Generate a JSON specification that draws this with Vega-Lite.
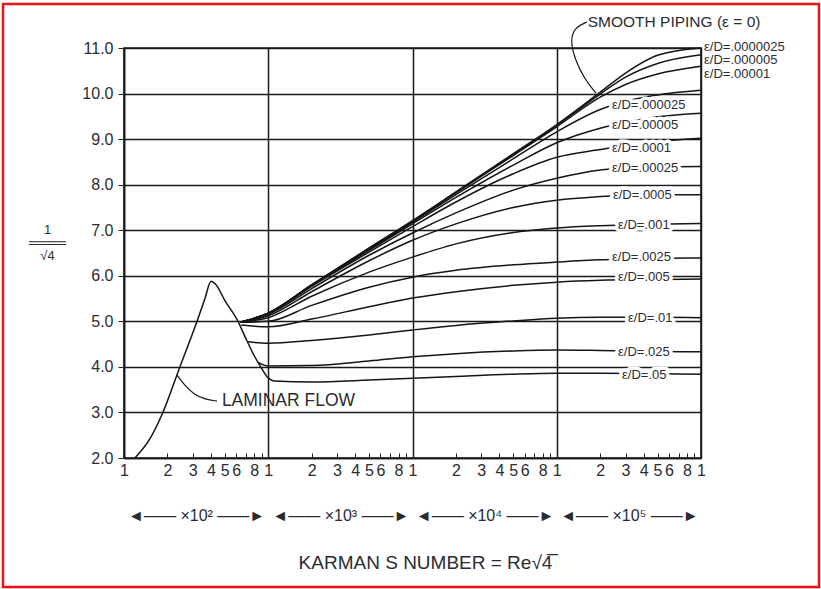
{
  "$schema": "https://vega.github.io/schema/vega-lite/v6.json",
  "width": 577,
  "height": 410,
  "autosize": {"type": "none"},
  "padding": {"left": 124, "top": 48, "right": 120, "bottom": 131},
  "background": "white",
  "config": {
    "font": "Liberation Sans",
    "view": {"stroke": "#1a1a1a", "strokeWidth": 1.6},
    "text": {"font": "Liberation Sans", "color": "#2b2b33"}
  },
  "datasets": {
    "curves": [
      {"s": ".0000025", "K": 640, "v": 4.98}, {"s": ".0000025", "K": 1000, "v": 5.18}, {"s": ".0000025", "K": 2000, "v": 5.80}, {"s": ".0000025", "K": 5000, "v": 6.61}, {"s": ".0000025", "K": 10000, "v": 7.21}, {"s": ".0000025", "K": 20000, "v": 7.84}, {"s": ".0000025", "K": 50000, "v": 8.68}, {"s": ".0000025", "K": 100000, "v": 9.32}, {"s": ".0000025", "K": 200000, "v": 10.03}, {"s": ".0000025", "K": 300000, "v": 10.45}, {"s": ".0000025", "K": 500000, "v": 10.84}, {"s": ".0000025", "K": 1000000, "v": 11.0},
      {"s": ".000005", "K": 640, "v": 4.98}, {"s": ".000005", "K": 1000, "v": 5.18}, {"s": ".000005", "K": 2000, "v": 5.80}, {"s": ".000005", "K": 5000, "v": 6.60}, {"s": ".000005", "K": 10000, "v": 7.20}, {"s": ".000005", "K": 20000, "v": 7.83}, {"s": ".000005", "K": 50000, "v": 8.66}, {"s": ".000005", "K": 100000, "v": 9.30}, {"s": ".000005", "K": 200000, "v": 9.99}, {"s": ".000005", "K": 300000, "v": 10.36}, {"s": ".000005", "K": 500000, "v": 10.66}, {"s": ".000005", "K": 1000000, "v": 10.85},
      {"s": ".00001", "K": 640, "v": 4.98}, {"s": ".00001", "K": 1000, "v": 5.18}, {"s": ".00001", "K": 2000, "v": 5.80}, {"s": ".00001", "K": 5000, "v": 6.59}, {"s": ".00001", "K": 10000, "v": 7.19}, {"s": ".00001", "K": 20000, "v": 7.82}, {"s": ".00001", "K": 50000, "v": 8.64}, {"s": ".00001", "K": 100000, "v": 9.27}, {"s": ".00001", "K": 200000, "v": 9.92}, {"s": ".00001", "K": 300000, "v": 10.20}, {"s": ".00001", "K": 500000, "v": 10.43}, {"s": ".00001", "K": 1000000, "v": 10.60},
      {"s": ".000025", "K": 640, "v": 4.98}, {"s": ".000025", "K": 1000, "v": 5.18}, {"s": ".000025", "K": 2000, "v": 5.79}, {"s": ".000025", "K": 5000, "v": 6.58}, {"s": ".000025", "K": 10000, "v": 7.17}, {"s": ".000025", "K": 20000, "v": 7.78}, {"s": ".000025", "K": 50000, "v": 8.57}, {"s": ".000025", "K": 100000, "v": 9.16}, {"s": ".000025", "K": 200000, "v": 9.65}, {"s": ".000025", "K": 300000, "v": 9.83}, {"s": ".000025", "K": 500000, "v": 9.97}, {"s": ".000025", "K": 1000000, "v": 10.07},
      {"s": ".00005", "K": 640, "v": 4.98}, {"s": ".00005", "K": 1000, "v": 5.18}, {"s": ".00005", "K": 2000, "v": 5.78}, {"s": ".00005", "K": 5000, "v": 6.56}, {"s": ".00005", "K": 10000, "v": 7.14}, {"s": ".00005", "K": 20000, "v": 7.72}, {"s": ".00005", "K": 50000, "v": 8.43}, {"s": ".00005", "K": 100000, "v": 8.92}, {"s": ".00005", "K": 200000, "v": 9.24}, {"s": ".00005", "K": 300000, "v": 9.37}, {"s": ".00005", "K": 500000, "v": 9.49}, {"s": ".00005", "K": 1000000, "v": 9.57},
      {"s": ".0001", "K": 640, "v": 4.98}, {"s": ".0001", "K": 1000, "v": 5.17}, {"s": ".0001", "K": 2000, "v": 5.77}, {"s": ".0001", "K": 5000, "v": 6.52}, {"s": ".0001", "K": 10000, "v": 7.08}, {"s": ".0001", "K": 20000, "v": 7.62}, {"s": ".0001", "K": 50000, "v": 8.24}, {"s": ".0001", "K": 100000, "v": 8.60}, {"s": ".0001", "K": 200000, "v": 8.77}, {"s": ".0001", "K": 300000, "v": 8.86}, {"s": ".0001", "K": 500000, "v": 8.95}, {"s": ".0001", "K": 1000000, "v": 9.02},
      {"s": ".00025", "K": 640, "v": 4.98}, {"s": ".00025", "K": 1000, "v": 5.15}, {"s": ".00025", "K": 2000, "v": 5.72}, {"s": ".00025", "K": 5000, "v": 6.45}, {"s": ".00025", "K": 10000, "v": 6.94}, {"s": ".00025", "K": 20000, "v": 7.38}, {"s": ".00025", "K": 50000, "v": 7.88}, {"s": ".00025", "K": 100000, "v": 8.14}, {"s": ".00025", "K": 200000, "v": 8.32}, {"s": ".00025", "K": 300000, "v": 8.37}, {"s": ".00025", "K": 500000, "v": 8.39}, {"s": ".00025", "K": 1000000, "v": 8.40},
      {"s": ".0005", "K": 640, "v": 4.98}, {"s": ".0005", "K": 1000, "v": 5.12}, {"s": ".0005", "K": 2000, "v": 5.65}, {"s": ".0005", "K": 5000, "v": 6.33}, {"s": ".0005", "K": 10000, "v": 6.78}, {"s": ".0005", "K": 20000, "v": 7.14}, {"s": ".0005", "K": 50000, "v": 7.50}, {"s": ".0005", "K": 100000, "v": 7.66}, {"s": ".0005", "K": 200000, "v": 7.74}, {"s": ".0005", "K": 300000, "v": 7.77}, {"s": ".0005", "K": 500000, "v": 7.78}, {"s": ".0005", "K": 1000000, "v": 7.78},
      {"s": ".001", "K": 640, "v": 4.98}, {"s": ".001", "K": 1000, "v": 5.08}, {"s": ".001", "K": 2000, "v": 5.55}, {"s": ".001", "K": 5000, "v": 6.08}, {"s": ".001", "K": 10000, "v": 6.41}, {"s": ".001", "K": 20000, "v": 6.70}, {"s": ".001", "K": 50000, "v": 6.95}, {"s": ".001", "K": 100000, "v": 7.05}, {"s": ".001", "K": 200000, "v": 7.10}, {"s": ".001", "K": 500000, "v": 7.13}, {"s": ".001", "K": 1000000, "v": 7.15},
      {"s": ".0025", "K": 640, "v": 4.98}, {"s": ".0025", "K": 1000, "v": 5.00}, {"s": ".0025", "K": 2000, "v": 5.35}, {"s": ".0025", "K": 5000, "v": 5.75}, {"s": ".0025", "K": 10000, "v": 5.97}, {"s": ".0025", "K": 20000, "v": 6.12}, {"s": ".0025", "K": 50000, "v": 6.24}, {"s": ".0025", "K": 100000, "v": 6.30}, {"s": ".0025", "K": 200000, "v": 6.35}, {"s": ".0025", "K": 500000, "v": 6.38}, {"s": ".0025", "K": 1000000, "v": 6.39},
      {"s": ".005", "K": 650, "v": 4.92}, {"s": ".005", "K": 1000, "v": 4.88}, {"s": ".005", "K": 2000, "v": 5.05}, {"s": ".005", "K": 5000, "v": 5.32}, {"s": ".005", "K": 10000, "v": 5.51}, {"s": ".005", "K": 20000, "v": 5.65}, {"s": ".005", "K": 50000, "v": 5.79}, {"s": ".005", "K": 100000, "v": 5.86}, {"s": ".005", "K": 200000, "v": 5.90}, {"s": ".005", "K": 500000, "v": 5.92}, {"s": ".005", "K": 1000000, "v": 5.93},
      {"s": ".01", "K": 724, "v": 4.55}, {"s": ".01", "K": 1000, "v": 4.52}, {"s": ".01", "K": 2000, "v": 4.58}, {"s": ".01", "K": 5000, "v": 4.70}, {"s": ".01", "K": 10000, "v": 4.81}, {"s": ".01", "K": 20000, "v": 4.91}, {"s": ".01", "K": 50000, "v": 5.01}, {"s": ".01", "K": 100000, "v": 5.07}, {"s": ".01", "K": 200000, "v": 5.09}, {"s": ".01", "K": 500000, "v": 5.09}, {"s": ".01", "K": 1000000, "v": 5.08},
      {"s": ".025", "K": 850, "v": 4.10}, {"s": ".025", "K": 1000, "v": 4.02}, {"s": ".025", "K": 2000, "v": 4.03}, {"s": ".025", "K": 5000, "v": 4.13}, {"s": ".025", "K": 10000, "v": 4.22}, {"s": ".025", "K": 20000, "v": 4.29}, {"s": ".025", "K": 50000, "v": 4.35}, {"s": ".025", "K": 100000, "v": 4.37}, {"s": ".025", "K": 200000, "v": 4.36}, {"s": ".025", "K": 500000, "v": 4.34}, {"s": ".025", "K": 1000000, "v": 4.33},
      {"s": ".05", "K": 980, "v": 3.78}, {"s": ".05", "K": 1100, "v": 3.69}, {"s": ".05", "K": 2000, "v": 3.67}, {"s": ".05", "K": 5000, "v": 3.71}, {"s": ".05", "K": 10000, "v": 3.75}, {"s": ".05", "K": 20000, "v": 3.79}, {"s": ".05", "K": 50000, "v": 3.84}, {"s": ".05", "K": 100000, "v": 3.86}, {"s": ".05", "K": 200000, "v": 3.86}, {"s": ".05", "K": 500000, "v": 3.85}, {"s": ".05", "K": 1000000, "v": 3.84},
      {"s": "laminar", "K": 119, "v": 2.0}, {"s": "laminar", "K": 151, "v": 2.42}, {"s": "laminar", "K": 186, "v": 3.0}, {"s": "laminar", "K": 244, "v": 4.0}, {"s": "laminar", "K": 321, "v": 5.0}, {"s": "laminar", "K": 364, "v": 5.5}, {"s": "laminar", "K": 401, "v": 5.88}, {"s": "laminar", "K": 430, "v": 5.82}, {"s": "laminar", "K": 502, "v": 5.45}, {"s": "laminar", "K": 617, "v": 5.0}, {"s": "laminar", "K": 700, "v": 4.62}, {"s": "laminar", "K": 783, "v": 4.3}, {"s": "laminar", "K": 905, "v": 3.95}, {"s": "laminar", "K": 980, "v": 3.78}
    ],
    "leaders": [
      {"g": "lam", "o": 1, "K": 233, "v": 3.82}, {"g": "lam", "o": 2, "K": 265, "v": 3.58}, {"g": "lam", "o": 3, "K": 310, "v": 3.38}, {"g": "lam", "o": 4, "K": 364, "v": 3.29}, {"g": "lam", "o": 5, "K": 441, "v": 3.25},
      {"g": "smooth", "o": 1, "K": 187000, "v": 10.01}, {"g": "smooth", "o": 2, "K": 157000, "v": 10.30}, {"g": "smooth", "o": 3, "K": 134000, "v": 10.74}, {"g": "smooth", "o": 4, "K": 123700, "v": 11.17}, {"g": "smooth", "o": 5, "K": 134000, "v": 11.46}, {"g": "smooth", "o": 6, "K": 162200, "v": 11.57}
    ],
    "labels": [
      {"t": "ε/D=.000025", "K": 241600, "v": 9.75},
      {"t": "ε/D=.00005", "K": 241600, "v": 9.31},
      {"t": "ε/D=.0001", "K": 241600, "v": 8.80},
      {"t": "ε/D=.00025", "K": 241600, "v": 8.37},
      {"t": "ε/D=.0005", "K": 245000, "v": 7.77},
      {"t": "ε/D=.001", "K": 265800, "v": 7.11},
      {"t": "ε/D=.0025", "K": 241600, "v": 6.41},
      {"t": "ε/D=.005", "K": 265800, "v": 5.97},
      {"t": "ε/D=.01", "K": 311900, "v": 5.07},
      {"t": "ε/D=.025", "K": 265800, "v": 4.33},
      {"t": "ε/D=.05", "K": 283300, "v": 3.82},
      {"t": "ε/D=.0000025", "K": 1050000, "v": 11.03},
      {"t": "ε/D=.000005", "K": 1050000, "v": 10.73},
      {"t": "ε/D=.00001", "K": 1050000, "v": 10.43}
    ]
  },
  "layer": [
    {
      "data": {"name": "curves"},
      "mark": {"type": "line", "interpolate": "monotone", "color": "#151515", "strokeWidth": 1.5},
      "encoding": {
        "detail": {"field": "s"},
        "x": {
          "field": "K", "type": "quantitative",
          "scale": {"type": "log", "domain": [100, 1000000], "nice": false},
          "axis": {
            "orient": "bottom",
            "values": [100, 200, 300, 400, 500, 600, 700, 800, 900, 1000, 2000, 3000, 4000, 5000, 6000, 7000, 8000, 9000, 10000, 20000, 30000, 40000, 50000, 60000, 70000, 80000, 90000, 100000, 200000, 300000, 400000, 500000, 600000, 700000, 800000, 900000, 1000000],
            "labelExpr": "indexof([7, 9], round(datum.value / pow(10, floor(log(datum.value) / LN10 + 0.000001)))) >= 0 ? '' : format(round(datum.value / pow(10, floor(log(datum.value) / LN10 + 0.000001))), 'd')",
            "labelOverlap": false,
            "labelFlush": false,
            "labelFontSize": 16,
            "labelColor": "#2b2b33",
            "labelPadding": 9,
            "tickSize": -5,
            "tickColor": "#222",
            "domainColor": "#1a1a1a",
            "domainWidth": 1.6,
            "grid": true,
            "gridColor": "#1a1a1a",
            "gridWidth": 1.5,
            "gridOpacity": {"condition": {"test": "abs(log(datum.value) / LN10 - round(log(datum.value) / LN10)) < 0.001", "value": 1}, "value": 0},
            "title": null
          }
        },
        "y": {
          "field": "v", "type": "quantitative",
          "scale": {"domain": [2, 11], "nice": false, "zero": false},
          "axis": {
            "values": [2, 3, 4, 5, 6, 7, 8, 9, 10, 11],
            "format": ".1f",
            "labelFontSize": 16,
            "labelColor": "#2b2b33",
            "labelPadding": 5,
            "tickSize": 6,
            "tickColor": "#222",
            "domainColor": "#1a1a1a",
            "domainWidth": 1.6,
            "grid": true,
            "gridColor": "#1a1a1a",
            "gridWidth": 1.5,
            "title": ["1", "════", "√4"],
            "titleAngle": 0,
            "titleAlign": "center",
            "titleBaseline": "middle",
            "titleX": -77,
            "titleY": 181,
            "titleFontSize": 13,
            "titleLineHeight": 13,
            "titleFontWeight": "normal",
            "titleColor": "#2b2b33"
          }
        }
      }
    },
    {
      "data": {"name": "leaders"},
      "mark": {"type": "line", "interpolate": "basis", "color": "#151515", "strokeWidth": 1.2},
      "encoding": {
        "detail": {"field": "g"},
        "order": {"field": "o"},
        "x": {"field": "K", "type": "quantitative", "scale": {"type": "log", "domain": [100, 1000000], "nice": false}, "axis": null},
        "y": {"field": "v", "type": "quantitative", "scale": {"domain": [2, 11], "nice": false, "zero": false}}
      }
    },
    {
      "data": {"name": "labels"},
      "transform": [{"filter": "datum.K < 1000000"}],
      "mark": {"type": "text", "align": "left", "baseline": "middle", "fontSize": 13, "fill": "white", "stroke": "white", "strokeWidth": 7, "strokeJoin": "round"},
      "encoding": {
        "text": {"field": "t"},
        "x": {"field": "K", "type": "quantitative", "scale": {"type": "log", "domain": [100, 1000000], "nice": false}, "axis": null},
        "y": {"field": "v", "type": "quantitative", "scale": {"domain": [2, 11], "nice": false, "zero": false}}
      }
    },
    {
      "data": {"name": "labels"},
      "mark": {"type": "text", "align": "left", "baseline": "middle", "fontSize": 13, "color": "#2b2b33"},
      "encoding": {
        "text": {"field": "t"},
        "x": {
          "field": "K", "type": "quantitative",
          "scale": {"type": "log", "domain": [100, 1000000], "nice": false},
          "axis": {
            "orient": "bottom",
            "values": [316.2278, 3162.278, 31622.78, 316227.8],
            "labelExpr": "datum.value < 1000 ? '◄—— ×10² ——►' : datum.value < 10000 ? '◄—— ×10³ ——►' : datum.value < 100000 ? '◄—— ×10⁴ ——►' : '◄—— ×10⁵ ——►'",
            "domain": false,
            "ticks": false,
            "grid": false,
            "labelOverlap": false,
            "labelFlush": false,
            "labelLimit": 0,
            "labelPadding": 49,
            "labelFontSize": 16,
            "labelColor": "#2b2b33",
            "title": "KARMAN S NUMBER = Re√4̅",
            "titleFontSize": 19,
            "titleFontWeight": "normal",
            "titleColor": "#2b2b33",
            "titleX": 301,
            "titleY": 104,
            "titleAlign": "center",
            "titleBaseline": "middle"
          }
        },
        "y": {"field": "v", "type": "quantitative", "scale": {"domain": [2, 11], "nice": false, "zero": false}}
      }
    },
    {
      "data": {"values": [{"t": "LAMINAR FLOW", "K": 477, "v": 3.25}]},
      "mark": {"type": "text", "align": "left", "baseline": "middle", "fontSize": 17.5, "color": "#2b2b33"},
      "encoding": {
        "text": {"field": "t"},
        "x": {"field": "K", "type": "quantitative", "scale": {"type": "log", "domain": [100, 1000000], "nice": false}, "axis": null},
        "y": {"field": "v", "type": "quantitative", "scale": {"domain": [2, 11], "nice": false, "zero": false}}
      }
    },
    {
      "data": {"values": [{"t": "SMOOTH PIPING (ε = 0)", "K": 164000, "v": 11.57}]},
      "mark": {"type": "text", "align": "left", "baseline": "middle", "fontSize": 15.5, "color": "#2b2b33"},
      "encoding": {
        "text": {"field": "t"},
        "x": {"field": "K", "type": "quantitative", "scale": {"type": "log", "domain": [100, 1000000], "nice": false}, "axis": null},
        "y": {"field": "v", "type": "quantitative", "scale": {"domain": [2, 11], "nice": false, "zero": false}}
      }
    },
    {
      "data": {"values": [{"frame": "border"}]},
      "mark": {"type": "rect", "fillOpacity": 0, "stroke": "#ee1111", "strokeWidth": 2.5},
      "encoding": {
        "x": {"datum": 14.5, "type": "quantitative", "scale": {"type": "log", "domain": [100, 1000000], "nice": false}, "axis": null},
        "x2": {"datum": 6577000},
        "y": {"datum": 11.966, "type": "quantitative", "scale": {"domain": [2, 11], "nice": false, "zero": false}},
        "y2": {"datum": -0.832}
      }
    }
  ],
  "resolve": {"axis": {"x": "independent"}}
}
